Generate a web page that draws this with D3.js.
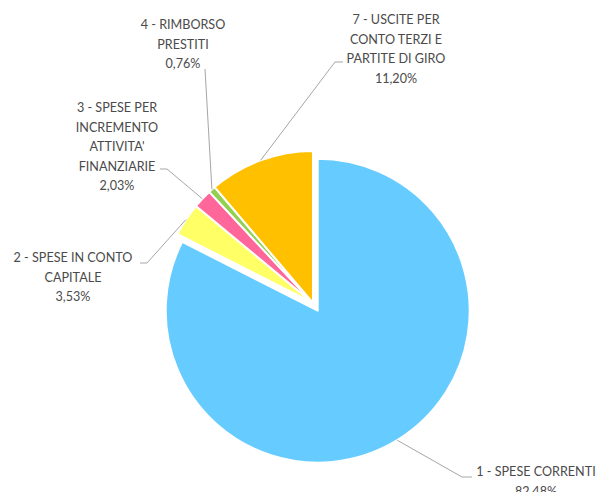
<!DOCTYPE html>
<html>
<head>
<meta charset="utf-8">
<script src="https://cdn.jsdelivr.net/npm/d3@7"></script>
<style>
  body { margin: 0; background: #fff; }
  text { font-family: Lato, "Open Sans", sans-serif; font-size: 12.6px; fill: #4a4a4a; }
</style>
</head>
<body>
<div id="chart"></div>
<script>
// slice data (clockwise from 12 o'clock)
const categories = [
    "1 - SPESE CORRENTI",
    "2 - SPESE IN CONTO CAPITALE",
    "3 - SPESE PER INCREMENTO ATTIVITA' FINANZIARIE",
    "4 - RIMBORSO PRESTITI",
    "7 - USCITE PER CONTO TERZI E PARTITE DI GIRO"
];
const values = [82.48, 3.53, 2.03, 0.76, 11.20];
const valueLabels = ["82,48%", "3,53%", "2,03%", "0,76%", "11,20%"];
const colors = ["#66ccff", "#ffff66", "#ff6699", "#92d050", "#ffc000"];

// how each label is broken into lines, as in the original
const labelLines = [
    ["1 - SPESE CORRENTI"],
    ["2 - SPESE IN CONTO", "CAPITALE"],
    ["3 - SPESE PER", "INCREMENTO", "ATTIVITA'", "FINANZIARIE"],
    ["4 - RIMBORSO", "PRESTITI"],
    ["7 - USCITE PER", "CONTO TERZI E", "PARTITE DI GIRO"]
];

// label placement: text centre x, first line y, and leader line start (+ elbow)
const labelLayout = [
    { x: 536, y: 472, lead: [[472, 477], [462, 477]] },
    { x: 73,  y: 258, lead: [[140, 263], [147, 263]] },
    { x: 117, y: 108, lead: [[160, 169], [167, 169]] },
    { x: 183, y: 25,  lead: [[205, 69]] },
    { x: 396, y: 20,  lead: [[343, 62], [335, 62]] }
];

var width = 601
var height = 492
var cx = 313, cy = 303
var radius = 152
var explode = [9, 0, 0, 0, 0]   // first slice pulled out
var lineH = 19.5

var svg = d3.select("#chart")
    .append("svg")
    .attr("width", width)
    .attr("height", height)

var g = svg.append("g")
    .attr("transform", "translate(" + cx + "," + cy + ")")

var pie = d3.pie().sort(null).value(d => d)
var arcs = pie(values)

var arcGen = d3.arc().innerRadius(0).outerRadius(radius)

function offset(d, i) {
    var mid = (d.startAngle + d.endAngle) / 2
    return [Math.sin(mid) * explode[i], -Math.cos(mid) * explode[i]]
}

// slices
g.selectAll("path.slice")
    .data(arcs)
    .enter()
    .append("path")
    .attr("class", "slice")
    .attr("d", arcGen)
    .attr("transform", (d, i) => "translate(" + offset(d, i) + ")")
    .attr("fill", (d, i) => colors[i])
    .attr("stroke", "#fff")
    .attr("stroke-width", 2)
    .attr("stroke-linejoin", "round")

// leader lines: from the label to the middle of the slice's rim
svg.selectAll("polyline.leader")
    .data(arcs)
    .enter()
    .append("polyline")
    .attr("class", "leader")
    .attr("points", function(d, i) {
        var mid = (d.startAngle + d.endAngle) / 2
        var o = offset(d, i)
        var end = [cx + o[0] + Math.sin(mid) * radius, cy + o[1] - Math.cos(mid) * radius]
        return labelLayout[i].lead.concat([end]).map(p => p.join(",")).join(" ")
    })
    .attr("fill", "none")
    .attr("stroke", "#a6a6a6")
    .attr("stroke-width", 1)

// labels
svg.selectAll("text.label")
    .data(arcs)
    .enter()
    .append("text")
    .attr("class", "label")
    .attr("text-anchor", "middle")
    .each(function(d, i) {
        var t = d3.select(this)
        var lines = labelLines[i].concat([valueLabels[i]])
        lines.forEach(function(line, k) {
            t.append("tspan")
                .attr("x", labelLayout[i].x)
                .attr("y", labelLayout[i].y + k * lineH)
                .attr("dy", "0.35em")
                .text(line)
        })
    })
</script>
</body>
</html>
